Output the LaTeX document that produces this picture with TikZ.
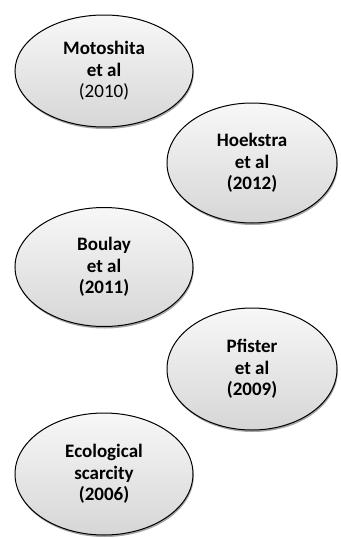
\documentclass[tikz,border=0pt]{standalone}
\usepackage{fontspec}
\setmainfont{Carlito}
\usetikzlibrary{shapes.geometric,shadows}
\tikzset{
  refbubble/.style={ellipse, draw=black, line width=1pt, inner sep=0pt,
    top color=gray!6, bottom color=gray!32, align=center,
    font=\fontsize{19}{21.5}\selectfont\bfseries,
    drop shadow={shadow xshift=0.8pt, shadow yshift=-2pt, opacity=0.35, fill=black}}
}
\begin{document}
\begin{tikzpicture}[x=1pt,y=-1pt]
\useasboundingbox (0,0) rectangle (340,538);
\node[refbubble, minimum width=178pt, minimum height=112pt] (moto) at (104,71) {Motoshita\\et al\\{\mdseries(2010)}};
\node[refbubble, minimum width=170pt, minimum height=120pt] (hoek) at (252,163) {Hoekstra\\et al\\(2012)};
\node[refbubble, minimum width=178pt, minimum height=119pt] (boul) at (104,267) {Boulay\\et al\\(2011)};
\node[refbubble, minimum width=170pt, minimum height=122pt] (pfis) at (252,369) {Pfister\\et al\\(2009)};
\node[refbubble, minimum width=178pt, minimum height=122pt] (ecol) at (104,474) {Ecological\\scarcity\\(2006)};
\end{tikzpicture}
\end{document}
